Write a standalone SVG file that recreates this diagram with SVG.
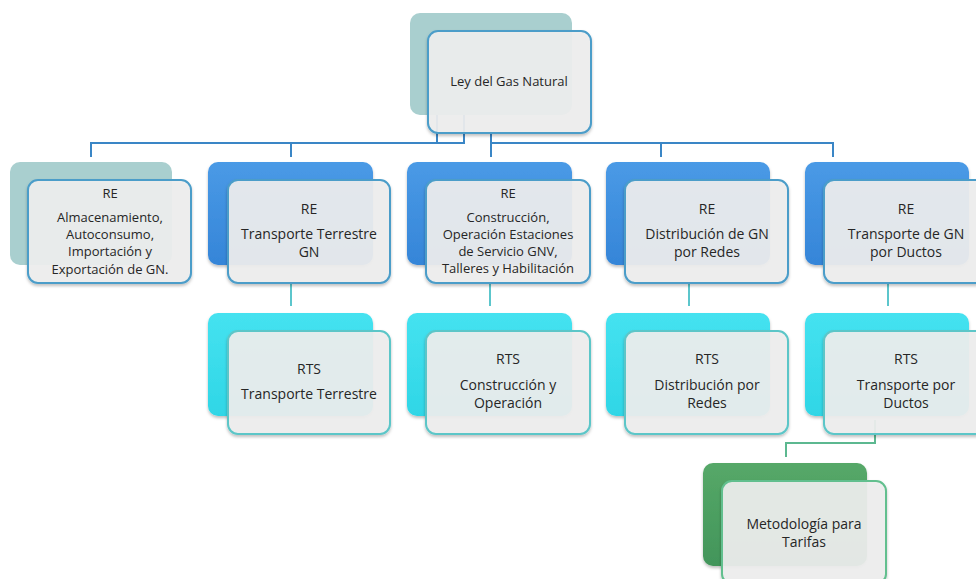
<svg xmlns="http://www.w3.org/2000/svg" width="976" height="579" viewBox="0 0 976 579">
<defs>
<style>
text{font-family:"Open Sans","Liberation Sans",Arial,sans-serif;font-size:14px;fill:#262626;text-anchor:middle}
.sm text{font-size:13px}
.front{fill:#efefef;fill-opacity:0.92;stroke-width:2}
.gray{fill:#a9cfcf}
.blue{fill:url(#gBlue)}
.cyan{fill:url(#gCyan)}
.green{fill:url(#gGreen)}
.sBlue{stroke:#4b9dc9}
.sTeal{stroke:#5cc6c8}
.sGreen{stroke:#62bf8e}
.c1{fill:none;stroke:#3a86c6;stroke-width:2}
.c2{fill:none;stroke:#5cc6cc;stroke-width:2}
.c3{fill:none;stroke:#5cb890;stroke-width:2}
</style>
<linearGradient id="gBlue" x1="0" y1="0" x2="0" y2="1"><stop offset="0" stop-color="#4a9ae6"/><stop offset="1" stop-color="#3585d8"/></linearGradient>
<linearGradient id="gCyan" x1="0" y1="0" x2="0" y2="1"><stop offset="0" stop-color="#45e2f0"/><stop offset="1" stop-color="#2fd6e6"/></linearGradient>
<linearGradient id="gGreen" x1="0" y1="0" x2="0" y2="1"><stop offset="0" stop-color="#56a868"/><stop offset="1" stop-color="#42955a"/></linearGradient>
<filter id="sh" x="-10%" y="-10%" width="125%" height="130%"><feDropShadow dx="0" dy="2" stdDeviation="1.5" flood-color="#000" flood-opacity="0.25"/></filter>
</defs>
<rect width="976" height="579" fill="#ffffff"/>
<g id="connectors">
<path class="c1" d="M437 115V143H91V157"/>
<path class="c1" d="M464 115V143H291V157"/>
<path class="c1" d="M491 133V157M491 143H833V157M661 143V157"/>
<path class="c2" d="M291 283V306M490 283V306M689 283V306M888 283V306"/>
<path class="c3" d="M875 420V443H786V457"/>
</g>
<g id="root" class="sm">
<rect class="gray" x="410" y="13" width="162" height="102" rx="10"/>
<rect class="front sBlue" x="428" y="31" width="163" height="102" rx="10" filter="url(#sh)"/>
<text x="509" y="86">Ley del Gas Natural</text>
</g>
<g id="re-almacenamiento" class="sm">
<rect class="gray" x="10" y="162" width="162" height="103" rx="10"/>
<rect class="front sBlue" x="28" y="180" width="163" height="103" rx="10" filter="url(#sh)"/>
<text x="110" y="198">RE</text>
<text x="110" y="222">Almacenamiento,</text>
<text x="110" y="239">Autoconsumo,</text>
<text x="110" y="256">Importación y</text>
<text x="110" y="274">Exportación de GN.</text>
</g>
<g id="re-transporte-terrestre">
<rect class="blue" x="208" y="162" width="165" height="103" rx="10" filter="url(#sh)"/>
<rect class="front sBlue" x="228" y="180" width="162" height="103" rx="10" filter="url(#sh)"/>
<text x="309" y="214">RE</text>
<text x="309" y="239">Transporte Terrestre</text>
<text x="309" y="257">GN</text>
</g>
<g id="re-construccion" class="sm">
<rect class="blue" x="407" y="162" width="165" height="103" rx="10" filter="url(#sh)"/>
<rect class="front sBlue" x="426" y="180" width="164" height="103" rx="10" filter="url(#sh)"/>
<text x="508" y="198">RE</text>
<text x="508" y="222">Construcción,</text>
<text x="508" y="239">Operación Estaciones</text>
<text x="508" y="256">de Servicio GNV,</text>
<text x="508" y="273">Talleres y Habilitación</text>
</g>
<g id="re-distribucion">
<rect class="blue" x="606" y="162" width="164" height="103" rx="10" filter="url(#sh)"/>
<rect class="front sBlue" x="625" y="180" width="163" height="103" rx="10" filter="url(#sh)"/>
<text x="707" y="214">RE</text>
<text x="707" y="239">Distribución de GN</text>
<text x="707" y="257">por Redes</text>
</g>
<g id="re-ductos">
<rect class="blue" x="805" y="162" width="164" height="103" rx="10" filter="url(#sh)"/>
<rect class="front sBlue" x="824" y="180" width="163" height="103" rx="10" filter="url(#sh)"/>
<text x="906" y="214">RE</text>
<text x="906" y="239">Transporte de GN</text>
<text x="906" y="257">por Ductos</text>
</g>
<g id="rts-transporte-terrestre">
<rect class="cyan" x="208" y="313" width="165" height="103" rx="10" filter="url(#sh)"/>
<rect class="front sTeal" x="228" y="331" width="162" height="103" rx="10" filter="url(#sh)"/>
<text x="309" y="374">RTS</text>
<text x="309" y="399">Transporte Terrestre</text>
</g>
<g id="rts-construccion">
<rect class="cyan" x="407" y="313" width="165" height="103" rx="10" filter="url(#sh)"/>
<rect class="front sTeal" x="426" y="331" width="164" height="103" rx="10" filter="url(#sh)"/>
<text x="508" y="364">RTS</text>
<text x="508" y="390">Construcción y</text>
<text x="508" y="408">Operación</text>
</g>
<g id="rts-distribucion">
<rect class="cyan" x="606" y="313" width="164" height="103" rx="10" filter="url(#sh)"/>
<rect class="front sTeal" x="625" y="331" width="163" height="103" rx="10" filter="url(#sh)"/>
<text x="707" y="364">RTS</text>
<text x="707" y="390">Distribución por</text>
<text x="707" y="408">Redes</text>
</g>
<g id="rts-ductos">
<rect class="cyan" x="805" y="313" width="164" height="103" rx="10" filter="url(#sh)"/>
<rect class="front sTeal" x="824" y="331" width="163" height="103" rx="10" filter="url(#sh)"/>
<text x="906" y="364">RTS</text>
<text x="906" y="390">Transporte por</text>
<text x="906" y="408">Ductos</text>
</g>
<g id="metodologia">
<rect class="green" x="703" y="463" width="164" height="103" rx="10" filter="url(#sh)"/>
<rect class="front sGreen" x="722" y="481" width="164" height="103" rx="10" filter="url(#sh)"/>
<text x="804" y="529">Metodología para</text>
<text x="804" y="547">Tarifas</text>
</g>
</svg>
